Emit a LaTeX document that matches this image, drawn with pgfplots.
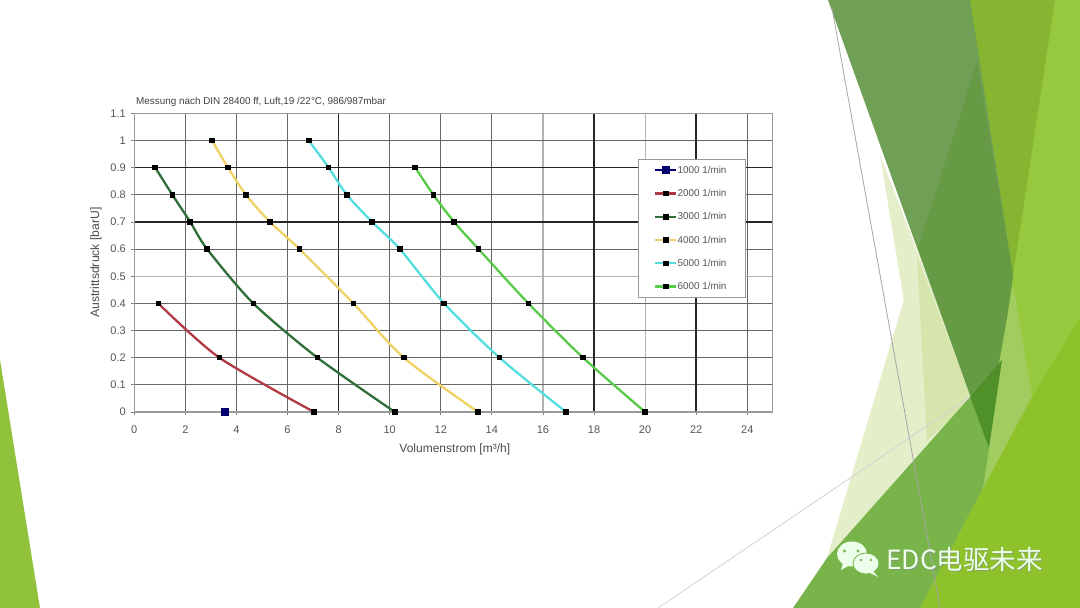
\documentclass[border=0pt]{standalone}
\usepackage{fontspec}
\usepackage{pgfplots}
\pgfplotsset{compat=1.18}
\setmainfont{Liberation Sans}
\newfontfamily\cjk{Noto Sans CJK SC}
\definecolor{cblue}{HTML}{000070}
\definecolor{cred}{HTML}{B23A42}
\definecolor{cdark}{HTML}{2F6F38}
\definecolor{cyel}{HTML}{EFD263}
\definecolor{ccya}{HTML}{55DEDF}
\definecolor{clgr}{HTML}{58CC48}
\definecolor{txt}{HTML}{555555}
\definecolor{g1}{HTML}{90C23C}
\definecolor{g2}{HTML}{97C93F}
\definecolor{g3}{HTML}{8EC22B}
\definecolor{g4}{HTML}{85B531}
\definecolor{g5}{HTML}{709F56}
\definecolor{g6}{HTML}{669A45}
\definecolor{g7}{HTML}{78B44A}
\definecolor{g8}{HTML}{4F9128}
\definecolor{g9}{HTML}{A0CC60}
\definecolor{p1}{HTML}{E4EEC9}
\definecolor{p2}{HTML}{D5E5AB}
\pgfplotsset{
  base/.style={
    at={(134.3pt,196pt)},anchor=south west,
    scale only axis,width=638.5pt,height=298.7pt,
    xmin=0,xmax=25,ymin=0,ymax=1.1,
  },
  ser/.style={line width=2.3pt,smooth,tension=0.45,mark=square*,mark size=2.3pt,
    mark options={black,fill=black,solid,line width=0pt}},
}
\begin{document}
\begin{tikzpicture}[x=1pt,y=1pt]
\path[use as bounding box] (0,0) rectangle (1080pt,608pt);
\begin{scope}[x=1pt,y=-1pt,yshift=608pt]
\clip (0,0) rectangle (1080,608);
\fill[white] (0,0) rectangle (1080,608);
\fill[g1] (0,360) -- (40,608) -- (0,608) -- cycle;
% pale triangles
\fill[p1] (880,155) -- (975,400) -- (927,442) -- cycle;
\fill[p1] (917,256) -- (975,400) -- (832,564) -- (827,558) -- cycle;
\fill[p2] (917,256) -- (972,400) -- (927,440) -- cycle;
% right panels
\fill[g2] (1050,0) -- (1080,0) -- (1080,608) -- (915,608) -- (975,488) -- (1005,275) -- cycle;
\fill[g4] (965,0) -- (1055,0) -- (1013,275) -- (1000,280) -- cycle;
\fill[g5] (828,0) -- (970,0) -- (1013,275) -- (989,448) -- cycle;
\fill[g6] (977,62) -- (1013,275) -- (989,448) -- (918,248) -- cycle;
\fill[g9] (1013,285) -- (1032,397) -- (983,488) -- (980,470) -- cycle;
\fill[g7] (970,397) -- (989,448) -- (983,488) -- (920,608) -- (793,608) -- (827,558) -- cycle;
\fill[g8] (970,397) -- (1002,360) -- (989,448) -- cycle;
\fill[g3] (1080,318) -- (1032,397) -- (920,608) -- (1080,608) -- cycle;
% thin lines
\draw[gray!70,line width=0.8pt] (832,8) -- (940,608);
\draw[gray!35,line width=0.8pt] (658,608) -- (970,397);
% watermark
\fill[white!92!green] (852,554) ellipse (15 and 12.5);
\fill[white!92!green] (843,563) -- (841,570) -- (850,565) -- cycle;
\fill[g7] (844.5,551) circle (1.7); \fill[g7] (858,551) circle (1.7);
\fill[white!92!green] (866,563.5) ellipse (13 and 10.5);
\draw[g7,line width=0.8pt] (866,563.5) ellipse (13 and 10.5);
\fill[white!92!green] (873,571) -- (878,577) -- (868,572) -- cycle;
\fill[g7] (861,560) circle (1.4); \fill[g7] (871,560) circle (1.4);
\node[anchor=base west,inner sep=0pt,text=black!45,opacity=.6] at (887,570.5) {\fontsize{26.5}{30}\selectfont\cjk EDC电驱未来};
\node[anchor=base west,inner sep=0pt,text=white!92!green] at (886,570) {\fontsize{26.5}{30}\selectfont\cjk EDC电驱未来};
\end{scope}
% grid layer
\begin{axis}[base,
  xtick={2,4,6,10,12,14,24},ytick={0.1,0.2,0.3,0.4,0.6,0.8,1},
  minor xtick={16,20},minor ytick={0.5},
  extra x ticks={8,18,22},extra y ticks={0.7,0.9},
  extra x tick labels={},extra y tick labels={},
  extra tick style={major grid style={black!85,line width=1.5pt}},
  xticklabels={},yticklabels={},
  grid=both,
  major grid style={black!60,line width=0.9pt},
  minor grid style={black!30,line width=1.2pt},
  tick style={draw=none},
  axis line style={draw=none},
]
\end{axis}
% plot layer
\begin{axis}[base,
  xtick={0,2,...,24},ytick={0,0.1,...,1.1},
  yticklabels={0,0.1,0.2,0.3,0.4,0.5,0.6,0.7,0.8,0.9,1,1.1},
  /pgf/number format/assume math mode=true,
  tick label style={font=\fontsize{11}{13}\selectfont,text=txt},
  tick style={black!50,line width=.8pt},
  tick align=outside,tick pos=left,
  major tick length=3pt,
  xticklabel style={yshift=-7pt},
  yticklabel style={xshift=-2pt},
  axis line style={black!40,line width=1.2pt},
  xlabel={Volumenstrom [m³/h]},
  ylabel={Austrittsdruck  [barU]},
  xlabel style={at={(axis description cs:0.502,-0.125)},anchor=center,font=\fontsize{12}{14}\selectfont,text=black!70},
  ylabel style={at={(axis description cs:-0.0600,0.50)},anchor=center,font=\fontsize{12.2}{14}\selectfont,text=black!70},
  title={Messung nach DIN 28400 ff, Luft,19 /22°C, 986/987mbar},
  title style={at={(0,1)},anchor=base west,xshift=1.7pt,yshift=2.5pt,inner sep=0pt,font=\fontsize{9.9}{11}\selectfont,text=black!75},
  legend cell align=left,
  legend image code/.code={\draw[mark repeat=2,mark phase=2,#1] plot coordinates {(0pt,0pt)(10.5pt,0pt)(21pt,0pt)};},
  legend style={at={(0.7893,0.848)},anchor=north west,draw=black!40,line width=.9pt,fill=white,
    inner xsep=15.5pt,inner ysep=7pt,row sep=15.3pt,
    font=\fontsize{9.9}{11}\selectfont,text=txt,
    nodes={inner sep=0pt,text height=7pt,text depth=1pt},
    /tikz/every even column/.append style={column sep=3.5pt}},
]
\addplot[ser,draw=cblue,mark options={cblue,fill=cblue},mark size=2.7pt] coordinates {(3.55,0)};
\addlegendentry{1000 1/min\hspace*{3.5pt}}
\addplot[ser,draw=cred] coordinates {(0.94,0.4)(3.33,0.2)(7.04,0)};
\addlegendentry{2000 1/min\hspace*{3.5pt}}
\addplot[ser,draw=cdark] coordinates {(0.82,0.9)(1.49,0.8)(2.19,0.7)(2.85,0.6)(4.66,0.4)(7.17,0.2)(10.2,0)};
\addlegendentry{3000 1/min\hspace*{3.5pt}}
\addplot[ser,draw=cyel] coordinates {(3.04,1)(3.67,0.9)(4.37,0.8)(5.31,0.7)(6.47,0.6)(8.58,0.4)(10.55,0.2)(13.46,0)};
\addlegendentry{4000 1/min\hspace*{3.5pt}}
\addplot[ser,draw=ccya] coordinates {(6.83,1)(7.61,0.9)(8.32,0.8)(9.31,0.7)(10.4,0.6)(12.13,0.4)(14.3,0.2)(16.9,0)};
\addlegendentry{5000 1/min\hspace*{3.5pt}}
\addplot[ser,draw=clgr] coordinates {(11.0,0.9)(11.71,0.8)(12.52,0.7)(13.48,0.6)(15.43,0.4)(17.57,0.2)(20.0,0)};
\addlegendentry{6000 1/min\hspace*{3.5pt}}
\end{axis}
\end{tikzpicture}
\end{document}
